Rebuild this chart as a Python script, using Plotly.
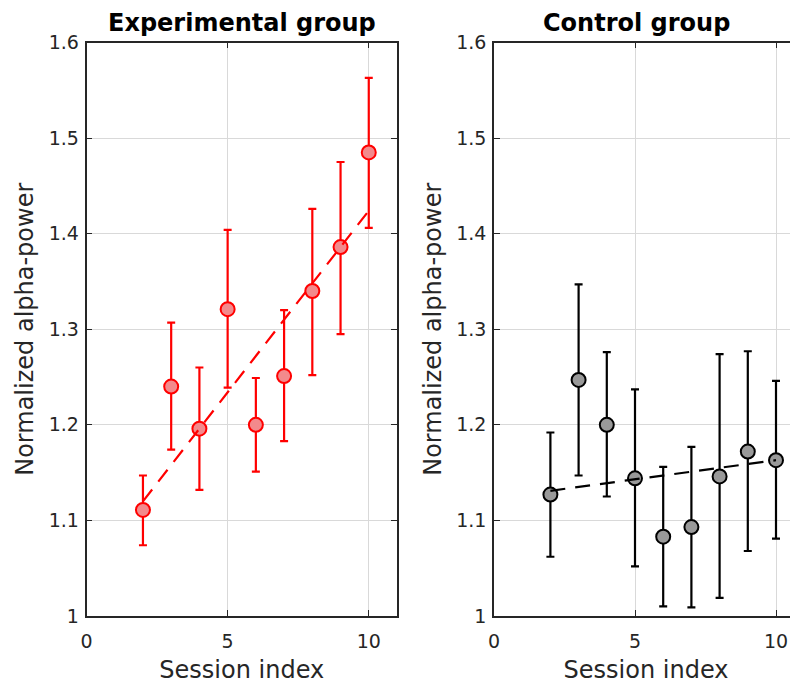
import plotly.graph_objects as go

sessions = [2, 3, 4, 5, 6, 7, 8, 9, 10]

exp_mean = [1.111, 1.240, 1.196, 1.321, 1.200, 1.251, 1.340, 1.386, 1.485]
exp_upper = [1.147, 1.307, 1.260, 1.404, 1.249, 1.320, 1.426, 1.475, 1.563]
exp_lower = [1.074, 1.174, 1.132, 1.239, 1.151, 1.183, 1.252, 1.295, 1.406]

ctl_mean = [1.127, 1.247, 1.200, 1.144, 1.083, 1.093, 1.146, 1.172, 1.163]
ctl_upper = [1.192, 1.347, 1.276, 1.237, 1.156, 1.177, 1.274, 1.277, 1.246]
ctl_lower = [1.062, 1.147, 1.125, 1.052, 1.010, 1.009, 1.019, 1.068, 1.081]

trend_x = [2, 10]
exp_trend = [1.120, 1.424]
ctl_trend = [1.131, 1.163]

x_ticks = [0, 5, 10]
y_ticks = [1.0, 1.1, 1.2, 1.3, 1.4, 1.5, 1.6]
y_tick_labels = ["1", "1.1", "1.2", "1.3", "1.4", "1.5", "1.6"]

titles = ["Experimental group", "Control group"]

# page body has an 8px margin, so figure is sized/positioned to compensate
OFF = 8
W, H = 798 - OFF, 684 - OFF
FONT = "DejaVu Sans"
AX = "#262626"

def px_x(p):
    return (p - OFF) / W

def px_y(p):
    return 1 - (p - OFF) / H

fig = go.Figure()

def add_group(mean, up, lo, trend, xa, ya, line_col, fill_col):
    fig.add_trace(go.Scatter(
        x=sessions, y=mean, mode="markers", xaxis=xa, yaxis=ya,
        marker=dict(size=14, color=fill_col, line=dict(color=line_col, width=2)),
        error_y=dict(type="data", symmetric=False,
                     array=[u - m for u, m in zip(up, mean)],
                     arrayminus=[m - l for m, l in zip(mean, lo)],
                     color=line_col, thickness=2.2, width=4),
        showlegend=False, hoverinfo="skip"))
    fig.add_trace(go.Scatter(
        x=trend_x, y=trend, mode="lines", xaxis=xa, yaxis=ya,
        line=dict(color=line_col, width=2.2, dash="15px,10px"),
        showlegend=False, hoverinfo="skip"))

add_group(exp_mean, exp_upper, exp_lower, exp_trend, "x", "y", "#ff0000", "#f38a8c")
add_group(ctl_mean, ctl_upper, ctl_lower, ctl_trend, "x2", "y2", "#000000", "#999999")

ydom = [px_y(616), px_y(42.5)]
common_x = dict(tickvals=x_ticks, ticks="inside", ticklen=6, tickcolor=AX,
                showline=True, linecolor=AX, linewidth=1.5, mirror="ticks",
                showgrid=True, gridcolor="#d9d9d9", gridwidth=1, zeroline=False,
                automargin=False, ticklabelstandoff=7,
                tickfont=dict(family=FONT, size=19, color=AX),
                title=dict(text="Session index", font=dict(family=FONT, size=24, color=AX), standoff=12))
common_y = dict(range=[1.0, 1.6], tickvals=y_ticks, ticktext=y_tick_labels,
                ticks="inside", ticklen=6, tickcolor=AX,
                showline=True, linecolor=AX, linewidth=1.5,
                showgrid=True, gridcolor="#d9d9d9", gridwidth=1, zeroline=False,
                automargin=False, ticklabelstandoff=2,
                tickfont=dict(family=FONT, size=19, color=AX),
                title=dict(text="Normalized alpha-power", font=dict(family=FONT, size=24, color=AX), standoff=8))

fig.update_layout(
    width=W, height=H, margin=dict(l=0, r=0, t=0, b=0),
    paper_bgcolor="white", plot_bgcolor="white",
    xaxis=dict(common_x, domain=[px_x(86.5), px_x(397)], range=[0, 11]),
    yaxis=dict(common_y, domain=ydom, mirror="ticks", anchor="x"),
    xaxis2=dict(common_x, domain=[px_x(494), 1.0], range=[0, 10.78], anchor="y2"),
    yaxis2=dict(common_y, domain=ydom, mirror=False, anchor="x2"),
)

for t, cx in zip(titles, [241.5, 636]):
    fig.add_annotation(text="<b>%s</b>" % t, x=px_x(cx), y=px_y(23), xref="paper", yref="paper",
                       showarrow=False, font=dict(family=FONT, size=24, color="#000000"),
                       xanchor="center", yanchor="middle")

fig.write_html("out.html")
